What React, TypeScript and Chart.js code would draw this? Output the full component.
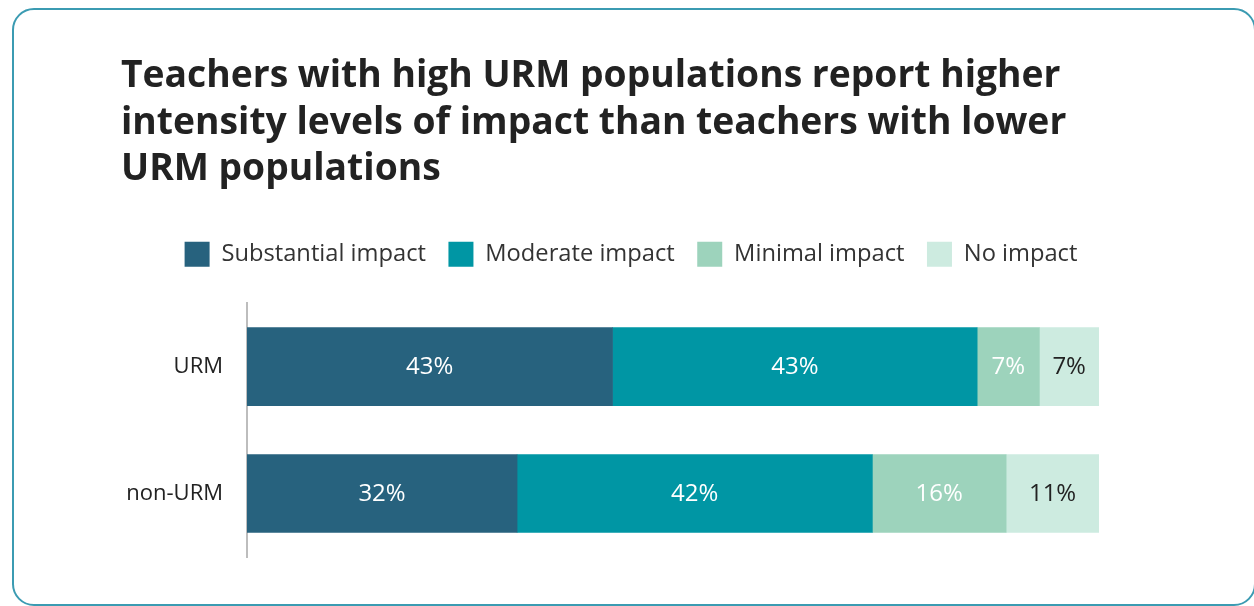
import React, { useEffect, useRef } from "react";
import { Chart, registerables } from "chart.js";

Chart.register(...registerables);

const titleLines = [
  "Teachers with high URM populations report higher",
  "intensity levels of impact than teachers with lower",
  "URM populations",
];
const categories = ["URM", "non-URM"];
const seriesNames = ["Substantial impact", "Moderate impact", "Minimal impact", "No impact"];
const substantial = [42.9, 31.7];
const moderate = [42.8, 41.7];
const minimal = [7.3, 15.7];
const noImpact = [7.0, 10.9];
const seriesColors = ["#27627e", "#0096a4", "#9dd3bc", "#cdebe0"];
const labelColors = ["#ffffff", "#ffffff", "#ffffff", "#222222"];

const FONT = "'Open Sans', 'Noto Sans', sans-serif";

const barLabels = {
  id: "barLabels",
  afterDatasetsDraw(chart: any) {
    const ctx = chart.ctx;
    ctx.save();
    ctx.font = `24px ${FONT}`;
    ctx.textAlign = "center";
    ctx.textBaseline = "middle";
    chart.data.datasets.forEach((ds: any, di: number) => {
      const meta = chart.getDatasetMeta(di);
      meta.data.forEach((el: any, i: number) => {
        const v = ds.data[i];
        const cx = (el.x + el.base) / 2;
        ctx.fillStyle = labelColors[di];
        ctx.fillText(`${Math.round(v)}%`, cx, el.y + 1);
      });
    });
    ctx.restore();
  },
};

export default function App() {
  const ref = useRef<HTMLCanvasElement | null>(null);
  useEffect(() => {
    if (!ref.current) return;
    const all = [substantial, moderate, minimal, noImpact];
    const chart = new Chart(ref.current, {
      type: "bar",
      data: {
        labels: categories,
        datasets: all.map((d, i) => ({
          label: seriesNames[i],
          data: d,
          backgroundColor: seriesColors[i],
          borderWidth: 0,
          barThickness: 78,
        })),
      },
      options: {
        indexAxis: "y",
        responsive: false,
        animation: false,
        devicePixelRatio: 1,
        layout: { padding: { left: 121, right: 113, top: 20, bottom: 49 } },
        plugins: {
          tooltip: { enabled: false },
          title: {
            display: true,
            text: titleLines,
            align: "start",
            color: "#222222",
            font: { family: FONT, size: 37.25, weight: "bold", lineHeight: 1.254 },
            padding: { top: 33, bottom: 26 },
          },
          legend: {
            display: true,
            position: "top",
            align: "center",
            labels: {
              boxWidth: 25,
              boxHeight: 25,
              padding: 22.5,
              color: "#333333",
              font: { family: FONT, size: 23.7 },
            },
          },
        },
        scales: {
          x: {
            stacked: true,
            min: 0,
            max: 100,
            position: "top",
            display: true,
            grid: { display: false, drawTicks: false },
            border: { display: false },
            ticks: { display: false },
            afterFit: (s: any) => {
              s.height = 26.5;
            },
          },
          y: {
            stacked: true,
            grid: { display: false, drawTicks: false },
            border: { display: true, color: "#bdbdbd", width: 2 },
            ticks: { color: "#222222", padding: 24, font: { family: FONT, size: 22 } },
            afterFit: (s: any) => {
              s.width = 126;
            },
          },
          y2: {
            type: "linear",
            position: "right",
            display: true,
            grid: { display: false, drawTicks: false },
            border: { display: false },
            ticks: { display: false },
            afterFit: (s: any) => {
              s.width = 42;
            },
          },
        },
      },
      plugins: [barLabels],
    });
    return () => chart.destroy();
  }, []);

  return (
    <div style={{ position: "fixed", left: 0, top: 0, width: 1254, height: 606, background: "#fff", overflow: "hidden" }}>
      <div
        style={{
          position: "absolute",
          left: 12,
          top: 8,
          width: 1244,
          height: 598,
          boxSizing: "border-box",
          border: "2px solid #3b9bb2",
          borderRadius: 22,
        }}
      />
      <canvas ref={ref} width={1254} height={606} style={{ position: "absolute", left: 0, top: 0, width: 1254, height: 606 }} />
    </div>
  );
}
